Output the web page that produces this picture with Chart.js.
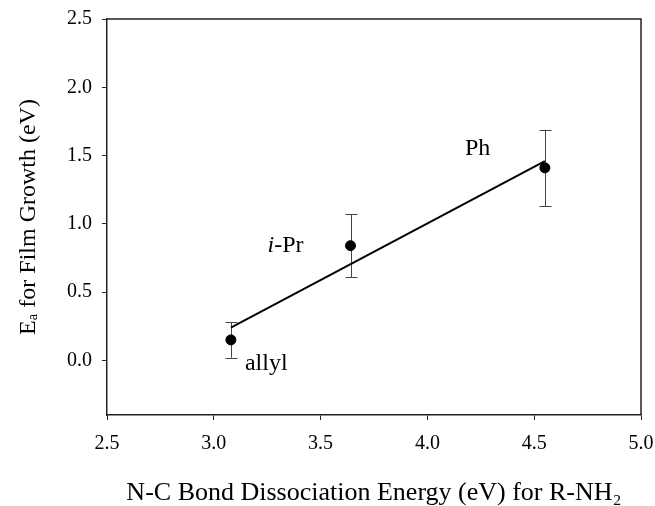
<!DOCTYPE html>
<html>
<head>
<meta charset="utf-8">
<script src="https://cdn.jsdelivr.net/npm/chart.js@4"></script>
<style>
  html, body { margin: 0; padding: 0; background: #ffffff; }
  #wrap { width: 655px; height: 506px; }
</style>
</head>
<body>
<div id="wrap"><canvas id="c" width="655" height="506"></canvas></div>
<script>
// ---- data ----
const amineNames   = ['allyl', 'i-Pr', 'Ph'];
const bondEnergy   = [3.08, 3.64, 4.55];      // N-C BDE (eV)
const activationE  = [0.15, 0.84, 1.41];      // Ea (eV)
const activationErr= [0.13, 0.23, 0.28];      // +/- error (eV)
const fitX         = [3.08, 4.55];            // regression line ends
const fitY         = [0.24, 1.46];
const xTicks       = [2.5, 3.0, 3.5, 4.0, 4.5, 5.0];
const yTicks       = [0.0, 0.5, 1.0, 1.5, 2.0, 2.5];

const FONT = '"Liberation Serif", "Times New Roman", "DejaVu Serif", serif';

const scatterPts = bondEnergy.map((x, i) => ({ x: x, y: activationE[i] }));
const fitPts = fitX.map((x, i) => ({ x: x, y: fitY[i] }));

// frame (top/right borders of the box)
const framePlugin = {
  id: 'frame',
  afterDraw(chart) {
    const a = chart.chartArea, ctx = chart.ctx;
    ctx.save();
    ctx.strokeStyle = '#222';
    ctx.lineWidth = 1.5;
    ctx.beginPath();
    ctx.moveTo(a.left, a.top);
    ctx.lineTo(a.right, a.top);
    ctx.lineTo(a.right, a.bottom);
    ctx.stroke();
    ctx.restore();
  }
};

// error bars drawn through the scales
const errorBarPlugin = {
  id: 'errorBars',
  beforeDatasetsDraw(chart) {
    const xs = chart.scales.x, ys = chart.scales.y, ctx = chart.ctx;
    ctx.save();
    ctx.strokeStyle = '#444';
    ctx.lineWidth = 1;
    bondEnergy.forEach((bx, i) => {
      const px = Math.round(xs.getPixelForValue(bx)) + 0.5;
      const yTop = ys.getPixelForValue(activationE[i] + activationErr[i]);
      const yBot = ys.getPixelForValue(activationE[i] - activationErr[i]);
      const cap = 6;
      ctx.beginPath();
      ctx.moveTo(px, yTop); ctx.lineTo(px, yBot);
      ctx.moveTo(px - cap, Math.round(yTop) + 0.5); ctx.lineTo(px + cap, Math.round(yTop) + 0.5);
      ctx.moveTo(px - cap, Math.round(yBot) + 0.5); ctx.lineTo(px + cap, Math.round(yBot) + 0.5);
      ctx.stroke();
    });
    ctx.restore();
  }
};

// point labels
const labelPlugin = {
  id: 'pointLabels',
  afterDatasetsDraw(chart) {
    const xs = chart.scales.x, ys = chart.scales.y, ctx = chart.ctx;
    // offsets (px) from each point to the label's left baseline
    const offs = [[14, 30], [-83, 6], [-80, -13]];
    ctx.save();
    ctx.fillStyle = '#000';
    ctx.textBaseline = 'alphabetic';
    ctx.textAlign = 'left';
    amineNames.forEach((name, i) => {
      let x = xs.getPixelForValue(bondEnergy[i]) + offs[i][0];
      const y = ys.getPixelForValue(activationE[i]) + offs[i][1];
      if (name.startsWith('i-')) {
        ctx.font = 'italic 24px ' + FONT;
        ctx.fillText('i', x, y);
        x += ctx.measureText('i').width;
        ctx.font = '24px ' + FONT;
        ctx.fillText(name.slice(1), x, y);
      } else {
        ctx.font = '24px ' + FONT;
        ctx.fillText(name, x, y);
      }
    });
    ctx.restore();
  }
};

new Chart(document.getElementById('c'), {
  data: {
    datasets: [
      {
        type: 'line',
        data: fitPts,
        borderColor: '#000',
        borderWidth: 2,
        pointRadius: 0,
        fill: false,
        tension: 0,
        order: 2
      },
      {
        type: 'scatter',
        data: scatterPts,
        backgroundColor: '#000',
        borderColor: '#000',
        pointRadius: 5,
        pointHoverRadius: 5,
        order: 1
      }
    ]
  },
  options: {
    responsive: false,
    animation: false,
    devicePixelRatio: 1,
    layout: { padding: { top: 19, right: 14, left: 0, bottom: 0 } },
    plugins: { legend: { display: false }, tooltip: { enabled: false } },
    scales: {
      x: {
        type: 'linear',
        position: 'bottom',
        min: 2.5,
        max: 5.0,
        afterFit(s) { s.height = 91; s.paddingLeft = 0; s.paddingRight = 0; },
        afterBuildTicks(s) { s.ticks = xTicks.map(v => ({ value: v })); },
        grid: { display: true, drawOnChartArea: false, tickLength: 5, color: '#222', lineWidth: 1 },
        border: { display: true, color: '#222', width: 1.5 },
        ticks: {
          color: '#000',
          padding: 12,
          maxRotation: 0,
          font: { family: FONT, size: 20 },
          callback: v => Number(v).toFixed(1)
        },
        title: {
          display: true,
          text: 'N-C Bond Dissociation Energy (eV) for R-NH\u2082',
          color: '#000',
          font: { family: FONT, size: 26, lineHeight: 1 },
          padding: { top: 0, bottom: 0 }
        }
      },
      y: {
        type: 'linear',
        position: 'left',
        min: -0.4,
        max: 2.5,
        afterFit(s) { s.width = 107; s.paddingTop = 0; s.paddingBottom = 0; },
        afterBuildTicks(s) { s.ticks = yTicks.map(v => ({ value: v })); },
        grid: { display: true, drawOnChartArea: false, tickLength: 5, color: '#222', lineWidth: 1 },
        border: { display: true, color: '#222', width: 1.5 },
        ticks: {
          color: '#000',
          padding: 10,
          font: { family: FONT, size: 20 },
          callback: v => Number(v).toFixed(1)
        },
        title: {
          display: true,
          text: 'E\u2090 for Film Growth (eV)',
          color: '#000',
          font: { family: FONT, size: 24, lineHeight: 1.2 },
          padding: { top: 14, bottom: 0 }
        }
      }
    }
  },
  plugins: [framePlugin, errorBarPlugin, labelPlugin]
});
</script>
</body>
</html>
